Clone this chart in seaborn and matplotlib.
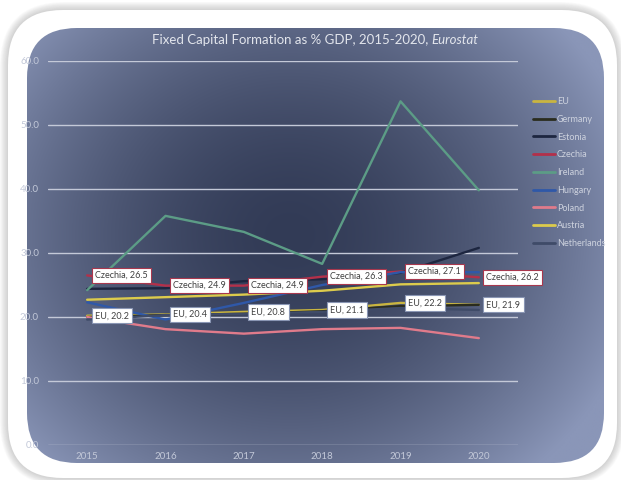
import numpy as np
import pandas as pd
import seaborn as sns
import matplotlib.pyplot as plt
from matplotlib.patches import FancyBboxPatch

years = [2015, 2016, 2017, 2018, 2019, 2020]
countries = ["EU", "Germany", "Estonia", "Czechia", "Ireland",
             "Hungary", "Poland", "Austria", "Netherlands"]

eu = [20.2, 20.4, 20.8, 21.1, 22.2, 21.9]
germany = [20.0, 20.3, 20.5, 20.9, 21.7, 21.9]
estonia = [24.4, 24.5, 25.6, 25.9, 26.9, 30.8]
czechia = [26.5, 24.9, 24.9, 26.3, 27.1, 26.2]
ireland = [24.2, 35.8, 33.3, 28.3, 53.7, 39.8]
hungary = [22.3, 19.6, 22.2, 25.0, 27.0, 27.0]
poland = [20.0, 18.1, 17.4, 18.1, 18.3, 16.7]
austria = [22.7, 23.1, 23.5, 24.1, 25.1, 25.3]
netherlands = [19.6, 20.3, 20.5, 20.8, 21.4, 21.1]

series = [eu, germany, estonia, czechia, ireland, hungary, poland, austria, netherlands]
colors = ["#c9b540", "#2a2c1e", "#1d2640", "#b3304a", "#5c9c86",
          "#2f58a8", "#e07b8b", "#dccb4c", "#3f4b68"]
palette = dict(zip(countries, colors))

df = pd.DataFrame({
    "year": years * len(countries),
    "value": [v for s in series for v in s],
    "country": [c for c in countries for _ in years],
})

sns.set_theme(style="white")
plt.rcParams["font.family"] = ["Lato", "DejaVu Sans"]

W, H = 621, 480
fig = plt.figure(figsize=(W / 100, H / 100), dpi=100)
fig.patch.set_facecolor("white")

# background: shadow, white frame, gradient panel
bg = fig.add_axes([0, 0, 1, 1])
bg.axis("off")

for i in range(10):
    p = 10 - i
    bg.add_patch(FancyBboxPatch((8 - p * 0.8, 10 - p * 0.8), 609 + p * 1.6, 468 + p * 1.6,
                                boxstyle="round,pad=0,rounding_size=%d" % (55 + p),
                                fc="#7a7a7a", ec="none", alpha=0.035))
bg.add_patch(FancyBboxPatch((8, 10), 609, 468, boxstyle="round,pad=0,rounding_size=55",
                            fc="white", ec="none"))
panel = FancyBboxPatch((27, 28), 577, 435, boxstyle="round,pad=0,rounding_size=50",
                       fc="none", ec="none")
bg.add_patch(panel)

gx, gy = np.meshgrid(np.linspace(27, 604, 300), np.linspace(28, 463, 240))
r = np.sqrt(((gx - 290) / 360) ** 2 + ((gy - 235) / 320) ** 2)
t = np.clip(r, 0, 1) ** 1.7
dark = np.array([0x32, 0x3b, 0x56]) / 255
light = np.array([0x8a, 0x96, 0xb8]) / 255
img = dark[None, None, :] * (1 - t[..., None]) + light[None, None, :] * t[..., None]
im = bg.imshow(img, extent=(27, 604, 463, 28), origin="upper", aspect="auto",
               interpolation="bilinear", zorder=3)
im.set_clip_path(panel)
bg.set_xlim(0, W)
bg.set_ylim(H, 0)

# chart
ax = fig.add_axes([48 / W, 1 - 445 / H, 470 / W, 384 / H])
ax.set_facecolor("none")
sns.lineplot(data=df, x="year", y="value", hue="country", hue_order=countries,
             palette=palette, linewidth=1.7, ax=ax, sort=False)

ax.set_xlim(2014.5, 2020.5)
ax.set_ylim(0, 60)
ax.set_xticks(years)
ax.set_xticklabels([str(y) for y in years])
ax.set_yticks(range(0, 70, 10))
ax.set_yticklabels([f"{v:.1f}" for v in range(0, 70, 10)])
ax.set_xlabel("")
ax.set_ylabel("")
ax.yaxis.grid(True, color="#c4c9d8", lw=1)
ax.set_axisbelow(True)
for s in ax.spines.values():
    s.set_visible(False)
ax.tick_params(axis="both", length=0, colors="#c2c8d8", labelsize=7)
ax.tick_params(axis="y", pad=6.5)
ax.tick_params(axis="x", pad=5)

# data labels
for yr, v in zip(years, czechia):
    ax.annotate(f"Czechia, {v}", (yr, v), xytext=(5.5, 0), textcoords="offset points",
                ha="left", va="center", fontsize=6.5, color="#404040", zorder=10,
                bbox=dict(boxstyle="square,pad=0.35", fc="white", ec="#a8384e", lw=0.8))
for yr, v in zip(years, eu):
    ax.annotate(f"EU, {v}", (yr, v), xytext=(5.5, 0), textcoords="offset points",
                ha="left", va="center", fontsize=6.5, color="#404040", zorder=10,
                bbox=dict(boxstyle="square,pad=0.35", fc="white", ec="#8a96b4", lw=0.8))

handles, labels = ax.get_legend_handles_labels()
leg = ax.legend(handles, labels, loc="upper left", bbox_to_anchor=(533 / W, 1 - 97 / H),
                bbox_transform=fig.transFigure, frameon=False, fontsize=6.5,
                labelcolor="#cdd2de", handlelength=2.4, handletextpad=0.25,
                labelspacing=0.97, borderpad=0, borderaxespad=0)
for h in leg.get_lines():
    h.set_linewidth(2)

# title with italic source
t1 = fig.text(0, 1 - 40 / H, "Fixed Capital Formation as % GDP, 2015-2020, ",
              fontsize=9.5, color="#e2e5ec", va="center", ha="left")
t2 = fig.text(0, 1 - 40 / H, "Eurostat", fontsize=9.5, color="#e2e5ec",
              va="center", ha="left", style="italic")
fig.canvas.draw()
rend = fig.canvas.get_renderer()
w1 = t1.get_window_extent(rend).width
w2 = t2.get_window_extent(rend).width
x0 = 315 - (w1 + w2) / 2
t1.set_x(x0 / W)
t2.set_x((x0 + w1) / W)

for lbl in ax.get_yticklabels() + ax.get_xticklabels():
    lbl.set_clip_on(True)
    lbl.set_clip_path(panel)

fig.savefig("out.png", dpi=100)
